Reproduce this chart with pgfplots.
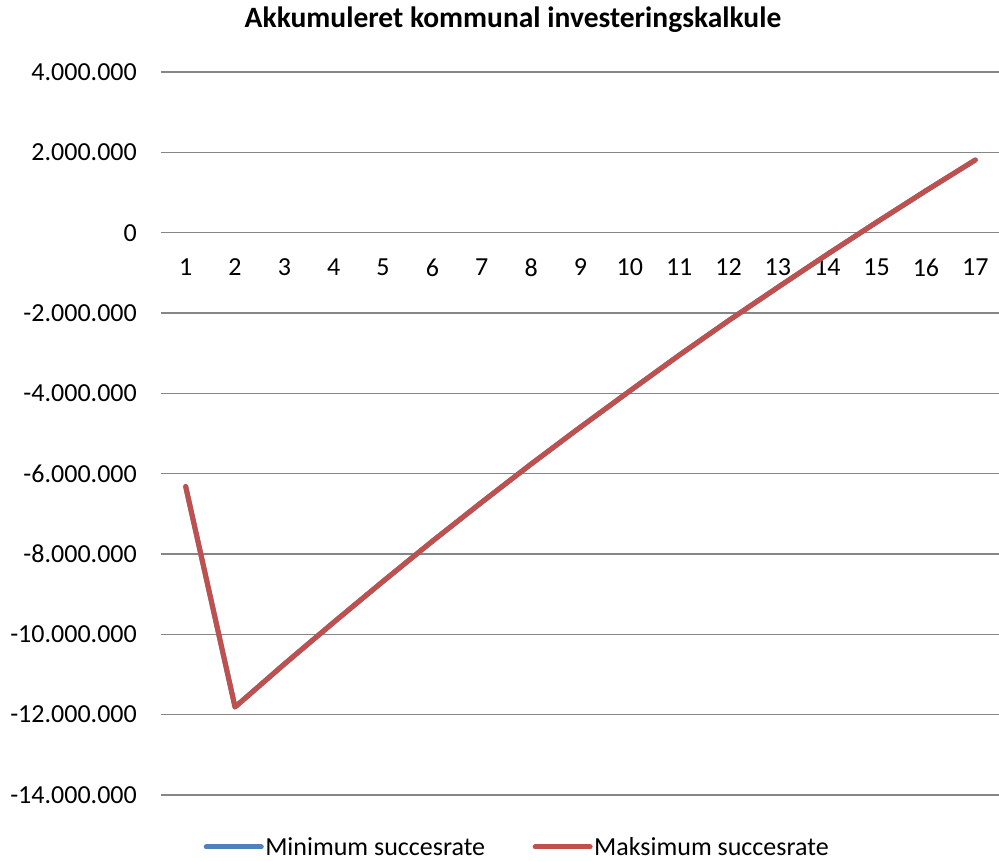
\documentclass[border=0pt]{standalone}
\usepackage{fontspec}
\setmainfont{Carlito}
\usepackage{pgfplots}
\usepackage{pgfplotstable}
\pgfplotsset{compat=1.18}

\definecolor{xlblue}{RGB}{79,129,189}
\definecolor{xlred}{RGB}{192,80,77}
\definecolor{gridgray}{RGB}{134,134,134}

% year, minimum and maksimum succesrate (the two series coincide)
\pgfplotstableread{
aar   minimum    maksimum
1    -6320000   -6320000
2   -11810000  -11810000
3   -10740000  -10740000
4    -9700000   -9700000
5    -8680000   -8680000
6    -7680000   -7680000
7    -6710000   -6710000
8    -5760000   -5760000
9    -4840000   -4840000
10   -3940000   -3940000
11   -3050000   -3050000
12   -2190000   -2190000
13   -1360000   -1360000
14    -540000    -540000
15     260000     260000
16    1045000    1045000
17    1810000    1810000
}\kalkule

\begin{document}
\begin{tikzpicture}
\begin{axis}[
  scale only axis,
  width=839pt, height=723pt,
  xmin=0.5, xmax=17.5,
  ymin=-14000000, ymax=4000000,
  axis x line=middle, axis y line=left,
  x axis line style={-, draw=gridgray, line width=1.5pt},
  y axis line style={draw=none},
  hide obscured x ticks=false, hide obscured y ticks=false,
  xtick={1,2,3,4,5,6,7,8,9,10,11,12,13,14,15,16,17},
  xticklabels={1,2,3,4,5,6,7,8,9,10,11,12,13,14,15,16,17},
  ytick={-14000000,-12000000,-10000000,-8000000,-6000000,-4000000,-2000000,0,2000000,4000000},
  yticklabels={-14.000.000,-12.000.000,-10.000.000,-8.000.000,-6.000.000,-4.000.000,-2.000.000,0,2.000.000,4.000.000},
  major tick length=0pt,
  ymajorgrids,
  grid style={gridgray, line width=1.5pt},
  scaled y ticks=false,
  tick label style={font=\fontsize{26}{31}\selectfont, inner sep=0pt},
  yticklabel style={anchor=east, xshift=-24pt},
  xticklabel style={anchor=north, yshift=-26pt},
  title={Akkumuleret kommunal investeringskalkule},
  title style={font=\bfseries\fontsize{29.5}{35}\selectfont, at={(0.4196,1)}, anchor=base, yshift=38pt},
  legend columns=2,
  legend style={at={(0.4243,0)}, anchor=center, yshift=-52pt, draw=none,
    font=\fontsize{26}{31}\selectfont, nodes={inner sep=1.5pt},
    /tikz/every even column/.append style={column sep=46pt}},
  legend image code/.code={\draw[#1] (0pt,0pt) -- (55pt,0pt);},
  every axis plot/.append style={line width=5pt, line cap=round, line join=round},
]
\addplot[xlblue] table[x=aar, y=minimum] {\kalkule};
\addlegendentry{Minimum succesrate}
\addplot[xlred] table[x=aar, y=maksimum] {\kalkule};
\addlegendentry{Maksimum succesrate}
\coordinate (O) at (rel axis cs:0,0);
\end{axis}
\pgfresetboundingbox
\path[use as bounding box] ([shift={(-161pt,-66pt)}]O) rectangle ([shift={(838pt,795pt)}]O);
\end{tikzpicture}
\end{document}
